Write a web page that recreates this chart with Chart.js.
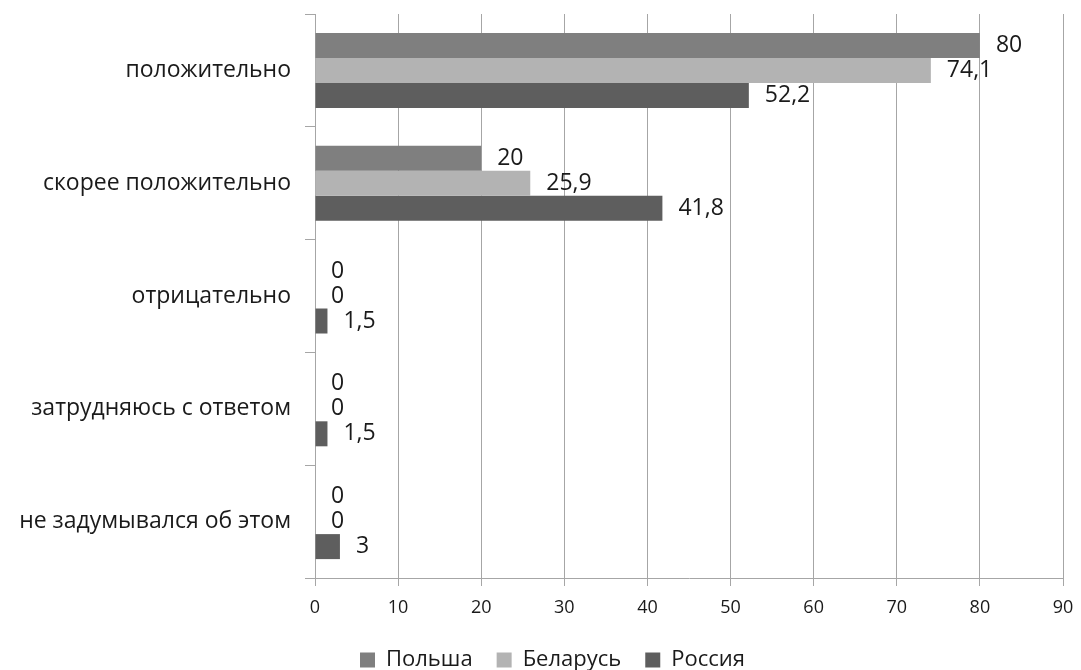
<!DOCTYPE html>
<html>
<head>
<meta charset="utf-8">
<script src="https://cdn.jsdelivr.net/npm/chart.js@4/dist/chart.umd.min.js"></script>
<style>
  html, body { margin: 0; padding: 0; background: #fff; }
  #wrap { width: 1081px; height: 670px; }
</style>
</head>
<body>
<div id="wrap"><canvas id="c" width="1081" height="670"></canvas></div>
<script>
const categories = ['положительно', 'скорее положительно', 'отрицательно', 'затрудняюсь с ответом', 'не задумывался об этом'];
const poland  = [80, 20, 0, 0, 0];
const belarus = [74.1, 25.9, 0, 0, 0];
const russia  = [52.2, 41.8, 1.5, 1.5, 3];
const seriesNames = ['Польша', 'Беларусь', 'Россия'];
const xTicks = [0, 10, 20, 30, 40, 50, 60, 70, 80, 90];

const FONT = '"Open Sans", "DejaVu Sans", sans-serif';
const TEXT = '#1a1a1a';

// values printed just past the end of each bar, with a decimal comma
const valueLabels = {
  id: 'valueLabels',
  afterDatasetsDraw(chart) {
    const ctx = chart.ctx;
    ctx.save();
    ctx.font = '23px ' + FONT;
    ctx.fillStyle = TEXT;
    ctx.textAlign = 'left';
    ctx.textBaseline = 'middle';
    chart.data.datasets.forEach((ds, di) => {
      const meta = chart.getDatasetMeta(di);
      meta.data.forEach((bar, i) => {
        const txt = String(ds.data[i]).replace('.', ',');
        ctx.fillText(txt, bar.x + 16, bar.y);
      });
    });
    ctx.restore();
  }
};

// keep the legend box compact while leaving wide gaps between its items,
// and nudge the row a little to the right of the canvas centre
const legendFit = {
  id: 'legendFit',
  beforeLayout(chart) {
    const lg = chart.legend;
    if (lg && !lg._fixedFit) {
      const fit = lg.fit.bind(lg);
      lg.fit = function () {
        fit();
        this.height = Math.min(this.height, 45);
        if (this.lineWidths && this.lineWidths.length) this.lineWidths[0] -= 42;
      };
      lg._fixedFit = true;
    }
  }
};

new Chart(document.getElementById('c'), {
  type: 'bar',
  data: {
    labels: categories,
    datasets: [
      { label: seriesNames[0], data: poland,  backgroundColor: '#7f7f7f' },
      { label: seriesNames[1], data: belarus, backgroundColor: '#b3b3b3' },
      { label: seriesNames[2], data: russia,  backgroundColor: '#5e5e5e' }
    ]
  },
  options: {
    indexAxis: 'y',
    responsive: false,
    animation: false,
    devicePixelRatio: 1,
    layout: { padding: { top: 14, right: 18, left: 0, bottom: 0 } },
    datasets: {
      bar: { categoryPercentage: 0.665, barPercentage: 1.0, borderWidth: 0 }
    },
    scales: {
      x: {
        min: 0, max: 90,
        afterBuildTicks(scale) { scale.ticks = xTicks.map(v => ({ value: v })); },
        grid: { color: '#a6a6a6', lineWidth: 1, tickLength: 8, drawTicks: true },
        border: { color: '#a6a6a6', width: 1 },
        ticks: { font: { family: FONT, size: 18 }, color: TEXT, padding: 11, maxRotation: 0 },
        afterFit(scale) {
          scale.height = 47;
          scale.paddingLeft = 0;
          scale.paddingRight = 0;
        }
      },
      y: {
        grid: { drawOnChartArea: false, color: '#a6a6a6', tickLength: 10, offset: true },
        border: { color: '#a6a6a6', width: 1 },
        ticks: { font: { family: FONT, size: 23 }, color: TEXT, padding: 14 },
        afterFit(scale) {
          scale.width = 315;
          scale.paddingTop = 0;
          scale.paddingBottom = 0;
        }
      }
    },
    plugins: {
      legend: {
        position: 'bottom',
        labels: {
          font: { family: FONT, size: 22 },
          color: TEXT,
          boxWidth: 15,
          boxHeight: 15,
          padding: 24
        }
      },
      tooltip: { enabled: false }
    }
  },
  plugins: [valueLabels, legendFit]
});
</script>
</body>
</html>
